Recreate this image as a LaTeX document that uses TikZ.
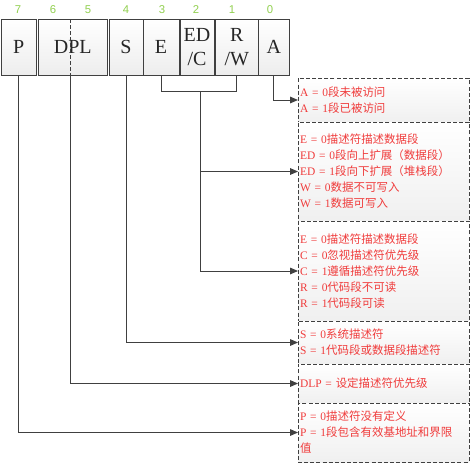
\documentclass[tikz,border=0pt]{standalone}
\usepackage{fontspec}
\setmainfont{Liberation Serif}
\newfontfamily\cjk{Noto Sans CJK SC}
\newfontfamily\numfont{Liberation Sans}
\usetikzlibrary{arrows.meta}
\newcommand\zh[1]{{\cjk #1}}
\definecolor{lc}{HTML}{404040}
\definecolor{txt}{HTML}{F03C3C}
\definecolor{grn}{HTML}{92D050}
\tikzset{
  bit/.style={draw=lc, line width=0.75pt, top color=white, bottom color=gray!14,
    minimum height=42pt, inner sep=0pt, outer sep=0pt, align=center,
    font=\fontsize{15}{18}\selectfont, text=black!85},
  num/.style={text=grn, font=\numfont\fontsize{8.5}{10}\selectfont, inner sep=0pt},
  info/.style={draw=lc, dashed, dash pattern=on 3pt off 1.6pt, line width=0.75pt,
    top color=white, bottom color=gray!12, anchor=north west, minimum width=128.25pt,
    text width=125.25pt, inner xsep=1.5pt, inner ysep=0pt, outer sep=0pt, align=left,
    text=txt, font=\fontsize{8.6}{12}\selectfont},
  conn/.style={draw=lc, line width=0.75pt},
  arr/.style={conn, -{Triangle[length=6pt,width=5pt]}}
}
\begin{document}
\begin{tikzpicture}[x=0.75pt,y=-0.75pt]
\useasboundingbox[fill=white] (0,0) rectangle (471,465);
% bit numbers
\node[num] (n7) at (18,10) {7};
\node[num] (n6) at (53,10) {6};
\node[num] (n5) at (88,10) {5};
\node[num] (n4) at (126,10) {4};
\node[num] (n3) at (162,10) {3};
\node[num] (n2) at (196,10) {2};
\node[num] (n1) at (232,10) {1};
\node[num] (n0) at (270,10) {0};
% bit boxes
\node[bit, minimum width=26.6pt] (p) at (18.75,47) {P};
\node[bit, minimum width=52.1pt] (dpl) at (72.75,47) {DPL};
\draw[lc, line width=0.75pt, dashed, dash pattern=on 3pt off 1.5pt] (70,19) -- (70,75);
\coordinate (dplcut) at (70,75);
\node[bit, minimum width=25.5pt] (s) at (126,47) {S};
\node[bit, minimum width=27pt] (e) at (161,47) {E};
\node[bit, minimum width=25.5pt] (edc) at (197,47) {ED\\/C};
\node[bit, minimum width=31.9pt] (rw) at (236.75,47) {R\\/W};
\node[bit, minimum width=22.9pt] (a) at (273.75,47) {A};
% info boxes
\node[info, minimum height=33pt] (bA) at (298,78)
  {A = 0\zh{段未被访问}\\A = 1\zh{段已被访问}};
\node[info, minimum height=74.25pt] (bE) at (298,122)
  {E = 0\zh{描述符描述数据段}\\ED = 0\zh{段向上扩展（数据段）}\\ED = 1\zh{段向下扩展（堆栈段）}\\W = 0\zh{数据不可写入}\\W = 1\zh{数据可写入}};
\node[info, minimum height=75pt] (bC) at (298,221)
  {E = 0\zh{描述符描述数据段}\\C = 0\zh{忽视描述符优先级}\\C = 1\zh{遵循描述符优先级}\\R = 0\zh{代码段不可读}\\R = 1\zh{代码段可读}};
\node[info, minimum height=32.25pt] (bS) at (298,321)
  {S = 0\zh{系统描述符}\\S = 1\zh{代码段或数据段描述符}};
\node[info, minimum height=29.25pt] (bD) at (298,364)
  {DLP = \zh{设定描述符优先级}};
\node[info, minimum height=44.25pt] (bP) at (298,403)
  {P = 0\zh{描述符没有定义}\\P = 1\zh{段包含有效基地址和界限}\\\zh{值}};
% connectors
\draw[arr] (a.south) |- (bA.west);
\draw[conn] (e.south) -- ++(0,16) -| (rw.south);
\coordinate (j) at (200,91);
\draw[arr] (j) |- (bE.west);
\draw[arr] (j) |- (bC.west);
\draw[arr] (s.south) |- (bS.west);
\draw[arr] (dplcut) |- (bD.west);
\draw[arr] (p.south) |- (bP.west);
\end{tikzpicture}
\end{document}
